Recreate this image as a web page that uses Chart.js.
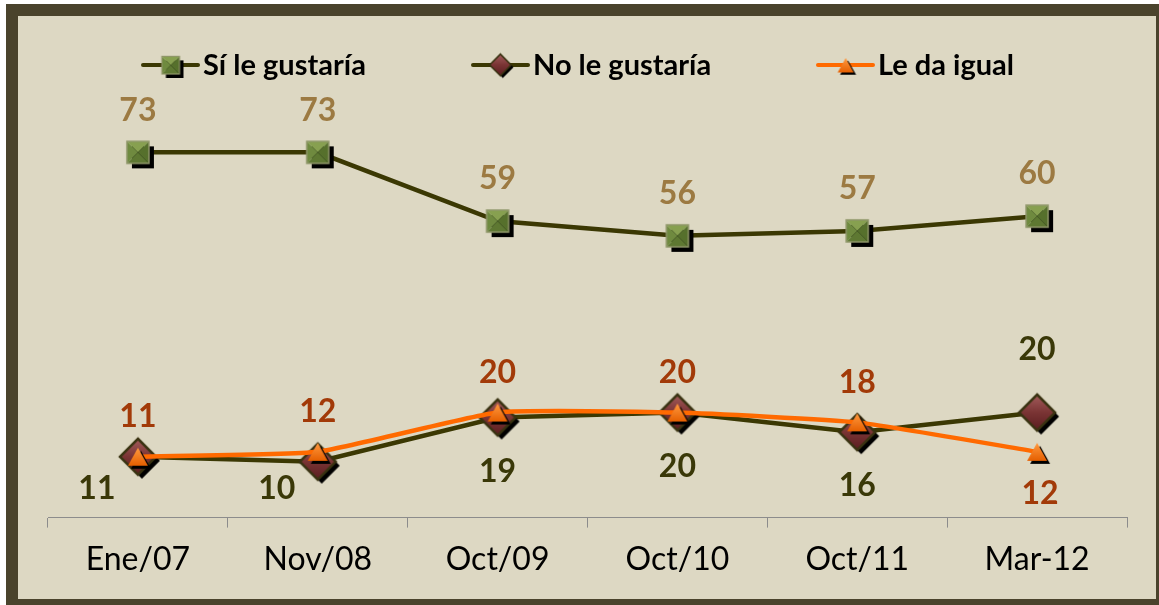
<!DOCTYPE html>
<html>
<head>
<meta charset="utf-8">
<script src="https://cdn.jsdelivr.net/npm/chart.js@4"></script>
<style>
  body { margin: 0; background: #ffffff; }
  #frame {
    position: absolute; left: 6px; top: 4px;
    width: 1138px; height: 583px;
    border-style: solid; border-color: #4a432c;
    border-width: 12px 3px 6px 12px;
    background: #ddd8c3;
  }
  canvas { display: block; }
</style>
</head>
<body>
<div id="frame"><canvas id="myChart" width="1138" height="583"></canvas></div>
<script>
// datos
const fechas = ["Ene/07", "Nov/08", "Oct/09", "Oct/10", "Oct/11", "Mar-12"];
const siGustaria = [73, 73, 59, 56, 57, 60];
const noGustaria = [11, 10, 19, 20, 16, 20];
const daIgual = [11, 12, 20, 20, 18, 12];

// marcadores dibujados en un canvas pequeño (con sombra)
function makeMarker(kind, scale) {
  const s = scale || 1;
  const size = Math.round(48 * s);
  const c = document.createElement("canvas");
  c.width = size; c.height = size;
  const g = c.getContext("2d");
  g.scale(s, s);
  const cx = 24, cy = 24;
  if (kind === "square") {
    const h = 11;
    g.fillStyle = "#000";
    g.fillRect(cx - h + 5, cy - h + 5, 2 * h, 2 * h);
    // pirámide
    const tri = (pts, col) => {
      g.beginPath(); g.moveTo(pts[0], pts[1]); g.lineTo(pts[2], pts[3]); g.lineTo(cx, cy); g.closePath();
      g.fillStyle = col; g.fill();
    };
    tri([cx - h, cy - h, cx + h, cy - h], "#87a050");
    tri([cx - h, cy - h, cx - h, cy + h], "#6f8a3f");
    tri([cx + h, cy - h, cx + h, cy + h], "#56702c");
    tri([cx - h, cy + h, cx + h, cy + h], "#5e7832");
    g.strokeStyle = "#8f9668"; g.lineWidth = 1.5;
    g.strokeRect(cx - h, cy - h, 2 * h, 2 * h);
  } else if (kind === "diamond") {
    const h = 18;
    const path = (ox, oy) => {
      g.beginPath();
      g.moveTo(cx + ox, cy - h + oy); g.lineTo(cx + h + ox, cy + oy);
      g.lineTo(cx + ox, cy + h + oy); g.lineTo(cx - h + ox, cy + oy); g.closePath();
    };
    path(4, 4); g.fillStyle = "#000"; g.fill();
    path(0, 0);
    const gr = g.createLinearGradient(0, cy - h, 0, cy + h);
    gr.addColorStop(0, "#a35c5c"); gr.addColorStop(0.5, "#7a3434"); gr.addColorStop(1, "#5a1d20");
    g.fillStyle = gr; g.fill();
    g.strokeStyle = "#3a3312"; g.lineWidth = 2.5; g.stroke();
  } else {
    const w = 10, hh = 9;
    const path = (ox, oy) => {
      g.beginPath();
      g.moveTo(cx + ox, cy - hh + oy); g.lineTo(cx + w + ox, cy + hh + oy); g.lineTo(cx - w + ox, cy + hh + oy); g.closePath();
    };
    path(3, 3); g.fillStyle = "#000"; g.fill();
    path(0, 0);
    const gr = g.createLinearGradient(0, cy - hh, 0, cy + hh);
    gr.addColorStop(0, "#ff9a40"); gr.addColorStop(1, "#e65f00");
    g.fillStyle = gr; g.fill();
  }
  return c;
}

const mkSquare = makeMarker("square");
const mkDiamond = makeMarker("diamond");
const mkTriangle = makeMarker("triangle");

// etiquetas de datos
const labelPlugin = {
  id: "etiquetas",
  afterDatasetsDraw(chart) {
    const ctx = chart.ctx;
    ctx.save();
    ctx.font = "bold 32px Lato";
    ctx.textAlign = "center";
    ctx.textBaseline = "middle";
    chart.data.datasets.forEach((ds, i) => {
      const cfg = ds.etiqueta;
      const meta = chart.getDatasetMeta(i);
      meta.data.forEach((pt, j) => {
        const off = (cfg.ajustes && cfg.ajustes[j]) || [0, cfg.dy];
        ctx.fillStyle = cfg.color;
        ctx.fillText(ds.data[j], pt.x + off[0], pt.y + off[1]);
      });
    });
    ctx.restore();
  }
};

// leyenda propia (línea + marcador)
const legendPlugin = {
  id: "leyenda",
  afterDraw(chart) {
    const ctx = chart.ctx;
    const items = [
      { x: 125, text: "Sí le gustaría", ds: 0, img: makeMarker("square", 0.8) },
      { x: 455, text: "No le gustaría", ds: 1, img: makeMarker("diamond", 0.6) },
      { x: 800, text: "Le da igual", ds: 2, img: makeMarker("triangle", 0.8) }
    ];
    const y = 49;
    ctx.save();
    items.forEach(it => {
      const ds = chart.data.datasets[it.ds];
      ctx.strokeStyle = ds.borderColor;
      ctx.lineWidth = 4;
      ctx.lineCap = "round";
      ctx.beginPath(); ctx.moveTo(it.x, y); ctx.lineTo(it.x + 55, y); ctx.stroke();
      ctx.drawImage(it.img, it.x + 27.5 - it.img.width / 2, y - it.img.height / 2);
      ctx.fillStyle = "#000";
      ctx.font = "bold 29px Lato";
      ctx.textBaseline = "alphabetic";
      ctx.fillText(it.text, it.x + 60, y + 10);
    });
    ctx.restore();
  }
};

const ctx = document.getElementById("myChart");

new Chart(ctx, {
  type: "line",
  data: {
    labels: fechas,
    datasets: [
      {
        label: "Sí le gustaría",
        data: siGustaria,
        borderColor: "#3b3803",
        borderWidth: 4.5,
        pointStyle: mkSquare,
        order: 3,
        etiqueta: { color: "#9c7a42", dy: -42 }
      },
      {
        label: "No le gustaría",
        data: noGustaria,
        borderColor: "#3b3803",
        borderWidth: 4.5,
        pointStyle: mkDiamond,
        order: 2,
        etiqueta: { color: "#3a3808", dy: 54, ajustes: { 0: [-41, 32], 1: [-41, 27], 5: [0, -63] } }
      },
      {
        label: "Le da igual",
        data: daIgual,
        borderColor: "#ff6a00",
        borderWidth: 4.5,
        pointStyle: mkTriangle,
        tension: 0.15,
        order: 1,
        etiqueta: { color: "#a23a08", dy: -40, ajustes: { 5: [3, 42] } }
      }
    ]
  },
  options: {
    responsive: false,
    animation: false,
    devicePixelRatio: 1,
    layout: { padding: { left: 30, right: 29, top: 102, bottom: 7 } },
    plugins: {
      legend: { display: false },
      tooltip: { enabled: false }
    },
    scales: {
      x: {
        offset: true,
        grid: { offset: true, drawOnChartArea: false, color: "#8c8c8c", tickLength: 10 },
        border: { color: "#8c8c8c", width: 1 },
        ticks: { color: "#000", font: { family: "Lato", size: 32 }, padding: 13 }
      },
      y: {
        display: false,
        min: -1.4,
        max: 80
      }
    }
  },
  plugins: [labelPlugin, legendPlugin]
});
</script>
</body>
</html>
